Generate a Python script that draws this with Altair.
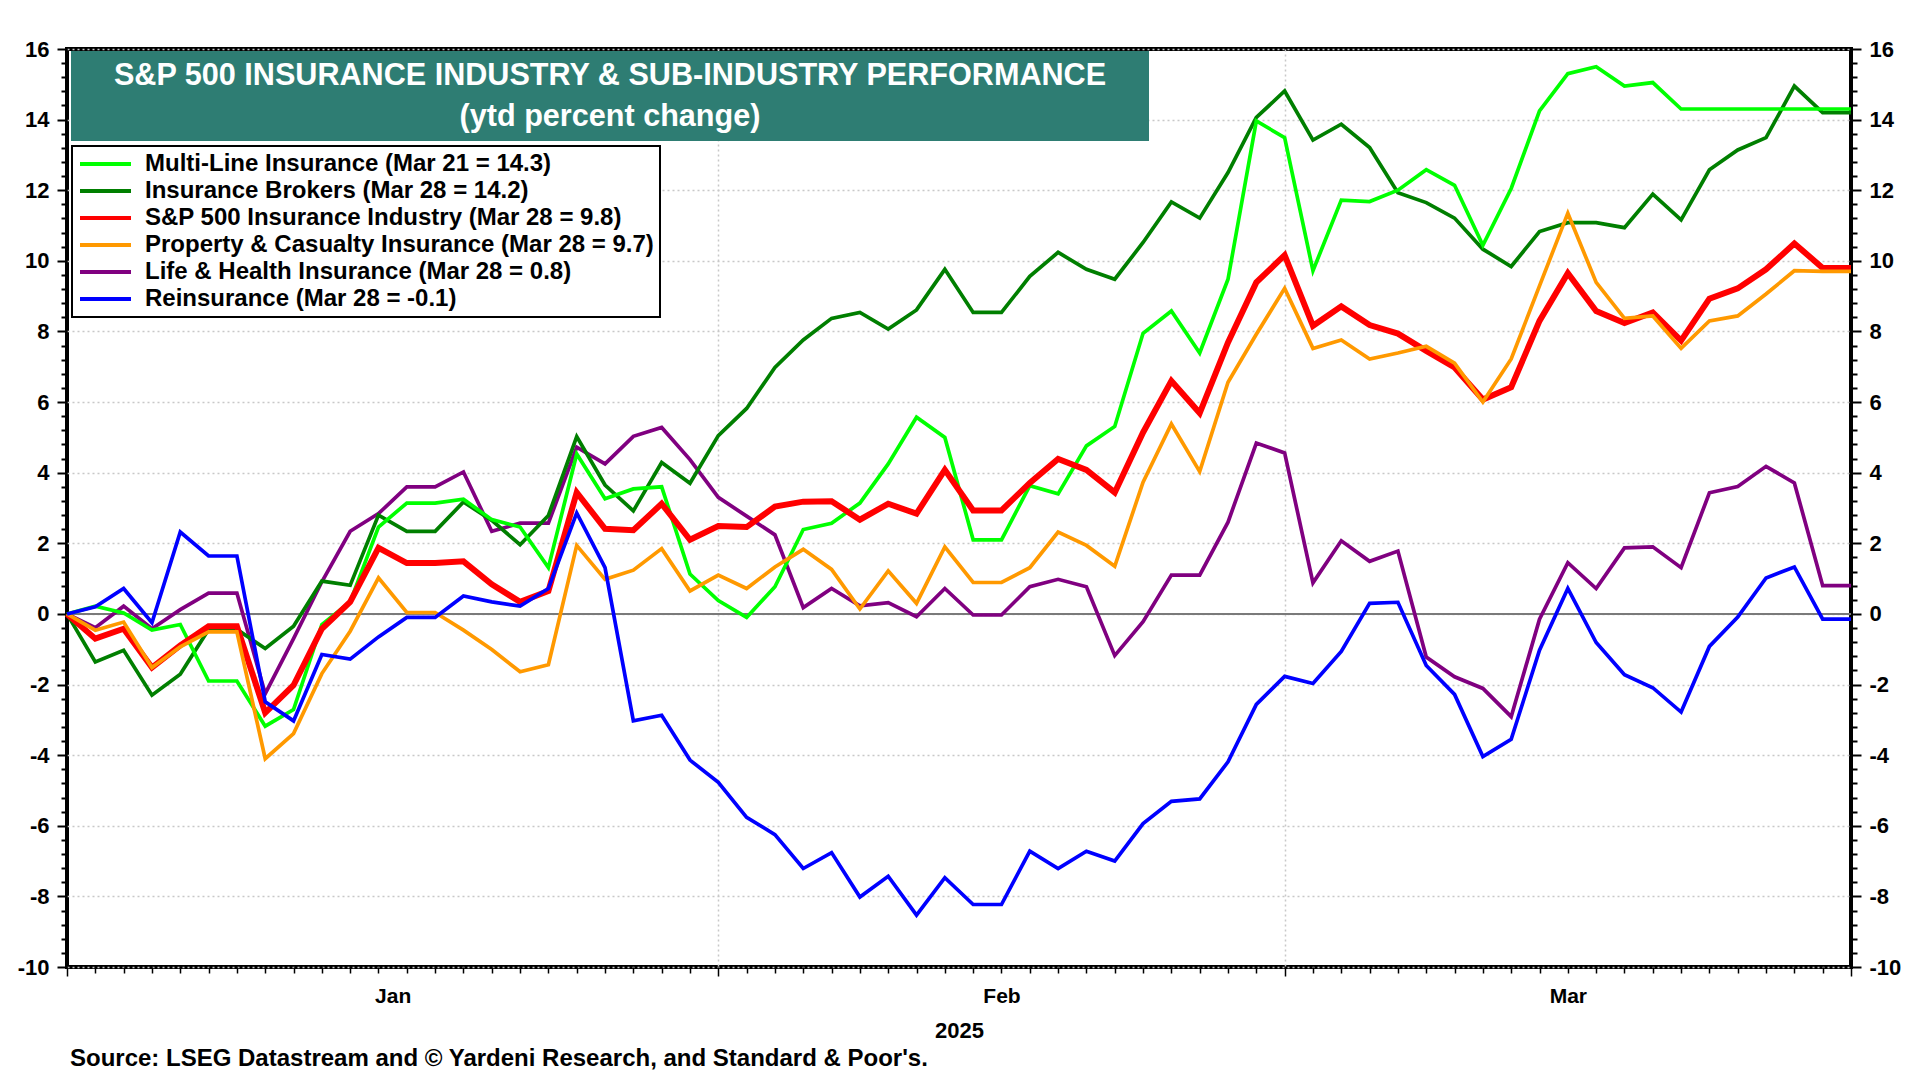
import altair as alt
import pandas as pd

# ---------------- data ----------------
series_names = [
    "Multi-Line Insurance (Mar 21 = 14.3)",
    "Insurance Brokers (Mar 28 = 14.2)",
    "S&P 500 Insurance Industry (Mar 28 = 9.8)",
    "Property & Casualty Insurance (Mar 28 = 9.7)",
    "Life & Health Insurance (Mar 28 = 0.8)",
    "Reinsurance (Mar 28 = -0.1)",
]
series_colors = ["#00ff00", "#007f00", "#ff0000", "#ff9900", "#800080", "#0000ff"]
series_widths = [3.7, 3.7, 6, 3.7, 3.7, 3.7]
draw_order = [4, 1, 0, 2, 3, 5]  # bottom -> top

# x = weekday index, Jan 1 2025 (0) ... Mar 31 2025 (63)
day_index = list(range(64))
month_labels = ["Jan", "Feb", "Mar"]
month_label_pos = [11.5, 33, 53]
month_starts = [0, 23, 43, 63]

multi_line = [0, 0.22, 0.03, -0.46, -0.3, -1.9, -1.9, -3.18, -2.71, -0.3,
              0.34, 2.46, 3.14, 3.14, 3.25, 2.67, 2.46, 1.31, 4.53, 3.26,
              3.54, 3.6, 1.13, 0.38, -0.1, 0.77, 2.39, 2.57, 3.14, 4.25,
              5.57, 5.0, 2.1, 2.1, 3.63, 3.4, 4.76, 5.31, 7.95, 8.58,
              7.39, 9.48, 13.96, 13.49, 9.72, 11.72, 11.68, 12.0, 12.58, 12.14,
              10.44, 12.05, 14.25, 15.3, 15.5, 14.95, 15.05, 14.3, 14.3, 14.3,
              14.3, 14.3, 14.3, 14.3]
brokers = [0, -1.36, -1.03, -2.3, -1.71, -0.44, -0.44, -0.98, -0.35, 0.93,
           0.81, 2.8, 2.34, 2.34, 3.17, 2.65, 1.96, 2.79, 5.02, 3.65,
           2.92, 4.29, 3.7, 5.05, 5.82, 6.98, 7.76, 8.37, 8.54, 8.07,
           8.61, 9.76, 8.54, 8.54, 9.56, 10.24, 9.76, 9.48, 10.52, 11.67,
           11.21, 12.5, 14.06, 14.81, 13.42, 13.87, 13.21, 11.93, 11.65, 11.21,
           10.33, 9.84, 10.83, 11.08, 11.08, 10.94, 11.89, 11.16, 12.58, 13.14,
           13.49, 14.95, 14.2, 14.2]
industry = [0, -0.7, -0.42, -1.52, -0.89, -0.35, -0.35, -2.8, -2.02, -0.42,
            0.34, 1.87, 1.44, 1.44, 1.49, 0.84, 0.34, 0.65, 3.44, 2.41,
            2.37, 3.12, 2.1, 2.49, 2.46, 3.04, 3.18, 3.19, 2.67, 3.12,
            2.84, 4.08, 2.93, 2.93, 3.71, 4.39, 4.08, 3.44, 5.14, 6.6,
            5.69, 7.69, 9.39, 10.16, 8.16, 8.71, 8.18, 7.94, 7.45, 6.98,
            6.07, 6.42, 8.3, 9.65, 8.58, 8.24, 8.54, 7.74, 8.93, 9.22,
            9.76, 10.49, 9.8, 9.8]
prop_cas = [0, -0.46, -0.23, -1.52, -0.93, -0.51, -0.51, -4.1, -3.39, -1.69,
            -0.49, 1.02, 0.04, 0.04, -0.46, -1.01, -1.64, -1.44, 1.94, 0.98,
            1.24, 1.85, 0.65, 1.1, 0.72, 1.33, 1.83, 1.26, 0.14, 1.22,
            0.3, 1.9, 0.89, 0.89, 1.31, 2.32, 1.94, 1.35, 3.73, 5.38,
            4.03, 6.56, 7.92, 9.22, 7.52, 7.76, 7.22, 7.39, 7.58, 7.1,
            6.0, 7.22, 9.29, 11.35, 9.39, 8.37, 8.44, 7.52, 8.3, 8.44,
            9.06, 9.72, 9.7, 9.7]
life_health = [0, -0.39, 0.22, -0.42, 0.12, 0.59, 0.59, -2.26, -0.7, 0.91,
               2.34, 2.84, 3.6, 3.6, 4.02, 2.34, 2.57, 2.57, 4.72, 4.25,
               5.03, 5.28, 4.37, 3.3, 2.77, 2.24, 0.18, 0.72, 0.23, 0.32,
               -0.08, 0.72, -0.03, -0.03, 0.77, 0.98, 0.77, -1.18, -0.22, 1.1,
               1.1, 2.6, 4.84, 4.56, 0.88, 2.07, 1.49, 1.78, -1.22, -1.78,
               -2.11, -2.91, -0.15, 1.45, 0.72, 1.87, 1.9, 1.31, 3.43, 3.61,
               4.18, 3.71, 0.8, 0.8]
reinsurance = [0, 0.2, 0.72, -0.25, 2.32, 1.64, 1.64, -2.49, -3.03, -1.15,
               -1.28, -0.65, -0.1, -0.1, 0.51, 0.34, 0.22, 0.72, 2.86, 1.31,
               -3.03, -2.87, -4.14, -4.77, -5.76, -6.25, -7.21, -6.76, -8.02, -7.43,
               -8.53, -7.47, -8.23, -8.23, -6.72, -7.21, -6.72, -7.0, -5.94, -5.31,
               -5.24, -4.19, -2.56, -1.77, -1.97, -1.06, 0.3, 0.33, -1.46, -2.28,
               -4.04, -3.55, -1.03, 0.72, -0.81, -1.72, -2.09, -2.78, -0.92, -0.09,
               1.02, 1.33, -0.15, -0.15]
all_values = [multi_line, brokers, industry, prop_cas, life_health, reinsurance]

title_line1 = "S&P 500 INSURANCE INDUSTRY & SUB-INDUSTRY PERFORMANCE"
title_line2 = "(ytd percent change)"
source_note = "Source: LSEG Datastream and \u00a9 Yardeni Research, and Standard & Poor's."
year_label = "2025"

FONT = "Liberation Sans"
W, H = 1784, 918

# ---------------- scales / axes ----------------
x_scale = alt.Scale(domain=[0, 63], nice=False, zero=False)
y_scale = alt.Scale(domain=[-10, 16], nice=False, zero=False)

x_values = sorted(day_index + [month_label_pos[0]])
month_test = " || ".join(f"datum.value == {v}" for v in month_starts)
label_expr = " : ".join(
    f"datum.value == {p} ? '{m}'" for p, m in zip(month_label_pos, month_labels)
) + " : ''"

x_axis = alt.Axis(
    values=x_values,
    labelExpr=label_expr,
    labelOverlap=False,
    labelFlush=False,
    labelFontSize=21,
    labelPadding=12,
    domain=False,
    tickColor="black",
    tickWidth=1.5,
    tickSize={"condition": {"test": month_test, "value": 9}, "value": 6},
    tickOpacity={"condition": {"test": "datum.value % 1 != 0", "value": 0}, "value": 1},
    grid=True,
    gridColor="#c8c8c8",
    gridDash=[2, 3],
    gridWidth=1.5,
    gridOpacity={"condition": {"test": "datum.value == 23 || datum.value == 43", "value": 1}, "value": 0},
    title=year_label,
    titleFontSize=22,
    titlePadding=11,
)

y_values = [round(-10 + 0.4 * k, 1) for k in range(66)]
even_test = "abs(datum.value - round(datum.value / 2) * 2) < 0.01"


def y_axis(orient, grid):
    return alt.Axis(
        orient=orient,
        values=y_values,
        labelExpr=f"{even_test} ? '' + round(datum.value) : ''",
        labelOverlap=False,
        labelFlush=False,
        labelFontSize=22,
        labelPadding=8,
        domain=False,
        tickColor="black",
        tickWidth=2,
        tickSize={"condition": {"test": even_test, "value": 10}, "value": 6},
        grid=grid,
        gridColor="#c8c8c8",
        gridDash=[2, 3],
        gridWidth=1.5,
        gridOpacity={"condition": {"test": even_test, "value": 1}, "value": 0},
        title=None,
    )


color_scale = alt.Scale(domain=series_names, range=series_colors)
legend = alt.Legend(
    title=None,
    orient="none",
    legendX=5,
    legendY=97,
    direction="vertical",
    symbolType="M-1,0H4.1",
    symbolSize=400,
    symbolStrokeWidth=4,
    labelFont=FONT,
    labelFontWeight="bold",
    labelFontSize=24,
    labelColor="black",
    labelLimit=900,
    labelOffset=43,
    rowPadding=3,
    padding=6,
    strokeColor="black",
    fillColor="white",
    cornerRadius=0,
)

# ---------------- layers ----------------
one = pd.DataFrame({"k": [0]})

title_box = alt.Chart(one).mark_rect(color="#2e7d73").encode(
    x=alt.value(4), x2=alt.value(1082), y=alt.value(2), y2=alt.value(92)
)
title_a = alt.Chart(one).mark_text(
    text=title_line1, font=FONT, fontWeight="bold", fontSize=30.6, color="white",
    align="center", baseline="middle",
).encode(x=alt.value(543), y=alt.value(27))
title_b = alt.Chart(one).mark_text(
    text=title_line2, font=FONT, fontWeight="bold", fontSize=30.6, color="white",
    align="center", baseline="middle",
).encode(x=alt.value(543), y=alt.value(68))

zero_rule = alt.Chart(pd.DataFrame({"v": [0]})).mark_rule(
    color="#7a7a7a", strokeWidth=2
).encode(y=alt.Y("v:Q", scale=y_scale, axis=y_axis("right", False)))

line_layers = []
for i in draw_order:
    df = pd.DataFrame({"idx": day_index, "value": all_values[i], "series": series_names[i]})
    line_layers.append(
        alt.Chart(df).mark_line(strokeWidth=series_widths[i], strokeJoin="miter").encode(
            x=alt.X("idx:Q", scale=x_scale, axis=x_axis),
            y=alt.Y("value:Q", scale=y_scale, axis=y_axis("left", True)),
            color=alt.Color("series:N", scale=color_scale, legend=legend),
        )
    )
lines = alt.layer(*line_layers)

source = alt.Chart(one).mark_text(
    text=source_note, font=FONT, fontWeight="bold", fontSize=24, color="black",
    align="left", baseline="middle",
).encode(x=alt.value(3), y=alt.value(1010))

chart = (
    alt.layer(title_box, title_a, title_b, zero_rule, lines, source)
    .resolve_scale(y="independent")
    .properties(
        width=W,
        height=H,
        padding={"left": 59, "top": 41, "right": 53, "bottom": 112},
        autosize=alt.AutoSizeParams(type="none"),
    )
    .configure_view(stroke="black", strokeWidth=4)
    .configure_legend(strokeWidth=2)
    .configure_axis(labelFont=FONT, labelFontWeight="bold", labelColor="black",
                    titleFont=FONT, titleFontWeight="bold", titleColor="black")
)

chart.save("out.html", embed_options={"renderer": "svg", "actions": False})
